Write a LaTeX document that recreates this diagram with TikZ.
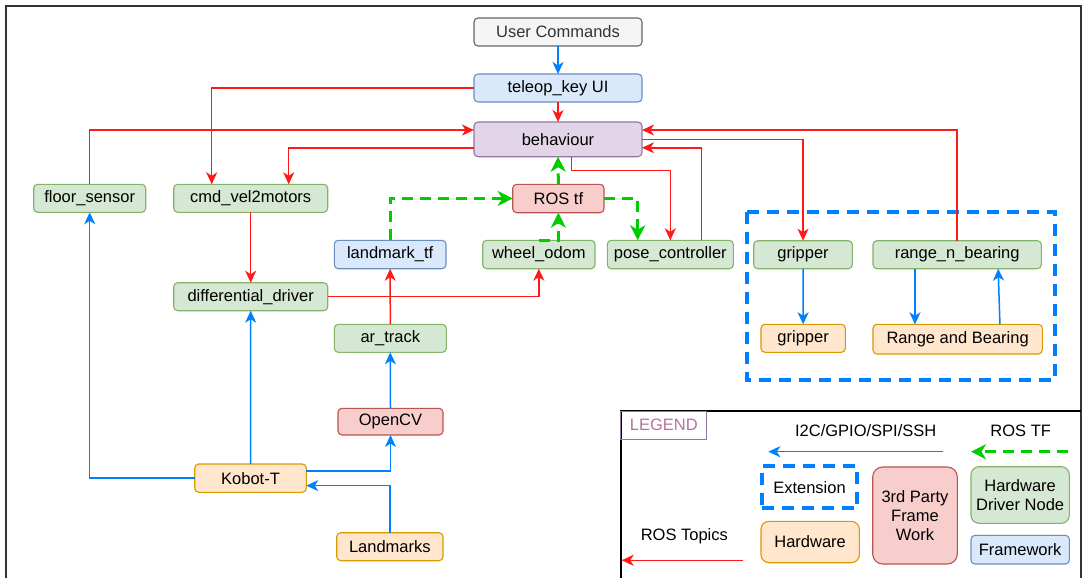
\documentclass[tikz,border=0pt]{standalone}
\usepackage{fontspec}
\setmainfont{Liberation Sans}
\usetikzlibrary{arrows.meta}
\definecolor{gfill}{HTML}{D5E8D4}\definecolor{gdraw}{HTML}{82B366}
\definecolor{bfill}{HTML}{DAE8FC}\definecolor{bdraw}{HTML}{6C8EBF}
\definecolor{rfill}{HTML}{F8CECC}\definecolor{rdraw}{HTML}{B85450}
\definecolor{ofill}{HTML}{FFE6CC}\definecolor{odraw}{HTML}{D79B00}
\definecolor{pfill}{HTML}{E1D5E7}\definecolor{pdraw}{HTML}{9673A6}
\definecolor{grfill}{HTML}{F5F5F5}\definecolor{grdraw}{HTML}{666666}
\definecolor{topiccol}{HTML}{FF1A1A}
\definecolor{hwcol}{HTML}{007FFF}
\definecolor{tfcol}{HTML}{00CC00}
\definecolor{legtext}{HTML}{B5739D}
\tikzset{
  box/.style={rounded corners=4pt, line width=1.1pt, inner sep=0pt, outer sep=0pt,
    font=\fontsize{16.5}{19}\selectfont, align=center},
  gbox/.style={box, fill=gfill, draw=gdraw},
  bbox/.style={box, fill=bfill, draw=bdraw},
  rbox/.style={box, fill=rfill, draw=rdraw},
  obox/.style={box, fill=ofill, draw=odraw},
  pbox/.style={box, fill=pfill, draw=pdraw},
  greybox/.style={box, fill=grfill, draw=grdraw, text=black!80},
  topic/.style={draw=topiccol, line width=1.5pt, -{Stealth[length=12pt,width=11pt,inset=3.5pt]}},
  hwlink/.style={draw=hwcol, line width=1.5pt, -{Stealth[length=12pt,width=11pt,inset=3.5pt]}},
  tflink/.style={draw=tfcol, line width=3pt, dash pattern=on 11pt off 7pt, -{Stealth[length=15pt,width=15pt,inset=4.5pt]}},
  extbox/.style={draw=hwcol, line width=4pt, dash pattern=on 12pt off 8pt},
  lbl/.style={font=\fontsize{16.5}{19}\selectfont, inner sep=0pt}
}
\newcommand\bx[8]{\node[#6, minimum width=#4-#2, minimum height=#5-#3] (#1) at ({(#2+#4)/2},{(#3+#5)/2}) {#7#8};}
\begin{document}
\begin{tikzpicture}[x=1pt,y=-1pt]
\useasboundingbox (0,0) rectangle (1085,578);
\fill[white] (0,0) rectangle (1085,578);
% outer frame
\draw[line width=2.2pt, draw=black!80] (6,578) -- (6,6) -- (1081,6) -- (1081,578);

% nodes
\bx{uc}{474}{18}{642}{46}{greybox}{}{User Commands}
\bx{teleop}{474}{74}{642}{102}{bbox}{}{teleop\_key UI}
\bx{beh}{474}{122}{642}{156.7}{pbox}{}{behaviour}
\bx{rostf}{512.7}{184.3}{604}{212.7}{rbox}{}{ROS tf}
\bx{lmtf}{334.3}{240.3}{446}{268.7}{bbox}{}{landmark\_tf}
\bx{wodom}{482.7}{240.3}{595}{268.7}{gbox}{}{wheel\_odom}
\bx{pose}{607.3}{240.3}{733.3}{268.7}{gbox}{}{pose\_controller}
\bx{floor}{33.7}{184.3}{145.7}{212.3}{gbox}{}{floor\_sensor}
\bx{cmdvel}{173.7}{184.3}{327.7}{212.3}{gbox}{}{cmd\_vel2motors}
\bx{diff}{173.7}{282.7}{327.7}{310.7}{gbox}{}{differential\_driver}
\bx{artrack}{334.3}{324.3}{446.3}{352.3}{gbox}{}{ar\_track}
\bx{opencv}{338}{408.3}{443}{435}{rbox}{}{OpenCV}
\bx{kobot}{194.7}{464}{306.3}{492.3}{obox}{}{Kobot-T}
\bx{landmarks}{336.7}{532.7}{443}{560.7}{obox}{}{Landmarks}
\bx{gripg}{753.7}{240.7}{852.3}{268.7}{gbox}{}{gripper}
\bx{rnb}{873}{240.7}{1041.3}{268.7}{gbox}{}{range\_n\_bearing}
\bx{gripo}{761}{324.3}{845.3}{352.3}{obox}{}{gripper}
\bx{rab}{873}{324.3}{1042.3}{354}{obox}{}{Range and Bearing}
\draw[extbox] (746.7,212.3) rectangle (1055.3,380);

% ROS topics (red)
\draw[topic] (teleop.south) -- (beh.north);
\draw[topic] (teleop.west) -| ([xshift=-39pt]cmdvel.north);
\draw[topic] (floor.north) |- ([yshift=9.3pt]beh.west);
\draw[topic] ([yshift=-8.4pt]beh.west) -| ([xshift=38pt]cmdvel.north);
\draw[topic] (cmdvel.south) -- (diff.north);
\draw[topic] (diff.east) -| (wodom.south);
\draw[topic] (artrack.north) -- (lmtf.south);
\draw[topic] ([xshift=13.7pt]beh.south) -- ++(0,14) -| (pose.north);
\draw[topic] ([xshift=31.4pt]pose.north) |- ([yshift=-8.4pt]beh.east);
\draw[topic] (rnb.north) |- ([yshift=9.3pt]beh.east);
\draw[topic] (beh.east) -| (gripg.north);

% ROS TF (green dashed)
\draw[tflink] (rostf.north) -- (beh.south);
\draw[tflink] (lmtf.north) |- (rostf.west);
\draw[tflink] (rostf.east) -| ([xshift=-32.6pt]pose.north);
\draw[tflink] (wodom.north) -| (rostf.south);

% hardware links (blue)
\draw[hwlink] (uc.south) -- (teleop.north);
\draw[hwlink] (kobot.west) -| (floor.south);
\draw[hwlink] (kobot.north) -- (diff.south);
\draw[hwlink] ([yshift=7.2pt]kobot.east) -| (opencv.south);
\draw[hwlink] (opencv.north) -- (artrack.south);
\draw[hwlink] (landmarks.north) |- ([yshift=-7.5pt]kobot.east);
\draw[hwlink] (gripg.south) -- (gripo.north);
\draw[hwlink] ([xshift=-42.2pt]rnb.south) -- ([xshift=-42.7pt]rab.north);
\draw[hwlink] ([xshift=42.3pt]rab.north) -- ([xshift=41pt]rnb.south);

% legend
\draw[line width=1.2pt, draw=black] (621,578) -- (621,411) -- (1081,411);
\node[draw=pdraw, line width=1pt, minimum width=85.7, minimum height=28.3, inner sep=0pt, outer sep=0pt,
  text=legtext, font=\fontsize{16.5}{19}\selectfont] (legend) at (663.8,425.2) {LEGEND};
\node[lbl] (li2c) at (865.7,430.7) {I2C/GPIO/SPI/SSH};
\node[lbl] (lrostf) at (1020.7,430.7) {ROS TF};
\coordinate (hwa) at (943.3,451.7); \coordinate (hwb) at (768.3,451.7);
\draw[hwlink] (hwa) -- (hwb);
\coordinate (tfa) at (1068,451.7); \coordinate (tfb) at (971,451.7);
\draw[tflink] (tfa) -- (tfb);
\node[extbox, minimum width=95.6, minimum height=42.3, inner sep=0pt, outer sep=0pt,
  font=\fontsize{16.5}{19}\selectfont] (lext) at (809.5,487.2) {Extension};
\bx{l3rd}{872.7}{467}{957.3}{564}{rbox, rounded corners=10pt}{}{3rd Party\\Frame\\Work}
\bx{lhdn}{971}{466.7}{1069.3}{523.3}{gbox, rounded corners=8pt}{}{Hardware\\Driver Node}
\bx{lhw}{761}{521.3}{859.3}{562.7}{obox, rounded corners=8pt}{}{Hardware}
\bx{lfw}{971}{535.3}{1069.3}{564}{bbox}{}{Framework}
\node[lbl] (ltopics) at (684.3,536.7) {ROS Topics};
\coordinate (ta) at (742.7,560.3); \coordinate (tb) at (621.7,560.3);
\draw[topic] (ta) -- (tb);
\end{tikzpicture}
\end{document}
